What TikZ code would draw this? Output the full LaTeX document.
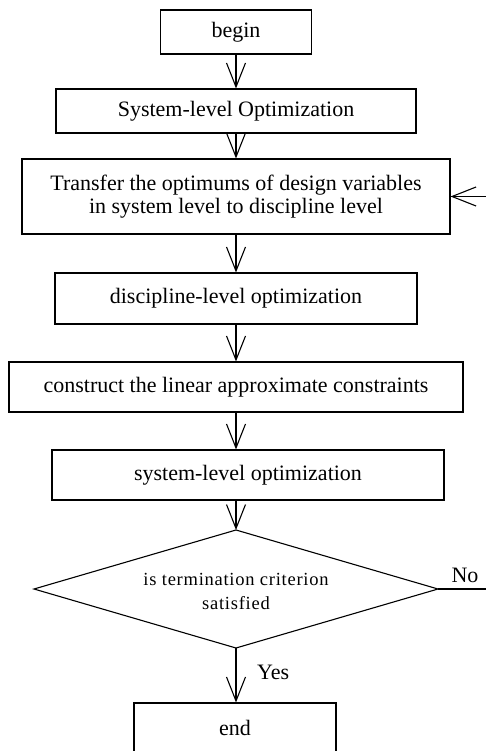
\documentclass[tikz,border=0pt]{standalone}
\usepackage{fontspec}
\setmainfont{Liberation Serif}
\usetikzlibrary{arrows.meta}
\begin{document}
\begin{tikzpicture}[x=1pt,y=-1pt,
  box/.style={draw, line width=1.1pt, inner sep=0pt, align=center,
    font=\fontsize{22}{23}\selectfont},
  flow/.style={line width=1.1pt, -{Straight Barb[length=24pt,width=19pt,line width=1.1pt]}},
  plain/.style={line width=1.1pt},
  lbl/.style={font=\fontsize{22}{23}\selectfont, inner sep=0pt}]
\useasboundingbox (0,0) rectangle (486,751);
\clip (0,0) rectangle (486,751);
\node[box, minimum width=151pt, minimum height=44pt] (begin) at (236,32) {begin};
\node[box, minimum width=360pt, minimum height=44pt] (sys1) at (236,111) {System-level Optimization};
\node[box, minimum width=428pt, minimum height=75pt] (transfer) at (236,196.5)
  {Transfer the optimums of design variables\\in system level to discipline level};
\node[box, minimum width=362pt, minimum height=51pt] (disc) at (236,298.5) {discipline-level optimization};
\node[box, minimum width=454pt, minimum height=50pt] (constr) at (236,387) {construct the linear approximate constraints};
\node[box, minimum width=392pt, minimum height=50pt] (sys2) at (248,475) {system-level optimization};
\coordinate (dtop) at (236,530);
\coordinate (dleft) at (34,589);
\coordinate (dright) at (438,589);
\coordinate (dbot) at (236,648);
\draw[plain] (dtop) -- (dright) -- (dbot) -- (dleft) -- cycle;
\node[align=center, inner sep=0pt, font=\fontsize{18.5}{24}\selectfont] (dtext) at (236,591)
  {\addfontfeatures{LetterSpace=4}is termination criterion\\\addfontfeatures{LetterSpace=4}satisfied};
\node[box, minimum width=202pt, minimum height=50pt] (end) at (235,728) {end};
\coordinate (noend) at (486,589);
\coordinate (backstart) at (486,196.5);
\draw[flow] (begin) -- (sys1);
\draw[flow] (sys1) -- (transfer);
\draw[flow] (transfer) -- (disc);
\draw[flow] (disc) -- (constr);
\draw[flow] (constr.south) -- (constr.south |- sys2.north);
\draw[flow] (sys2.south -| dtop) -- (dtop);
\draw[flow] (dbot) -- (dbot |- end.north);
\draw[plain] (dright) -- (noend);
\draw[flow] (backstart) -- (transfer.east);
\node[lbl, anchor=base] (no) at (465,582) {No};
\node[lbl, anchor=west] (yes) at (257,672) {Yes};
\end{tikzpicture}
\end{document}
